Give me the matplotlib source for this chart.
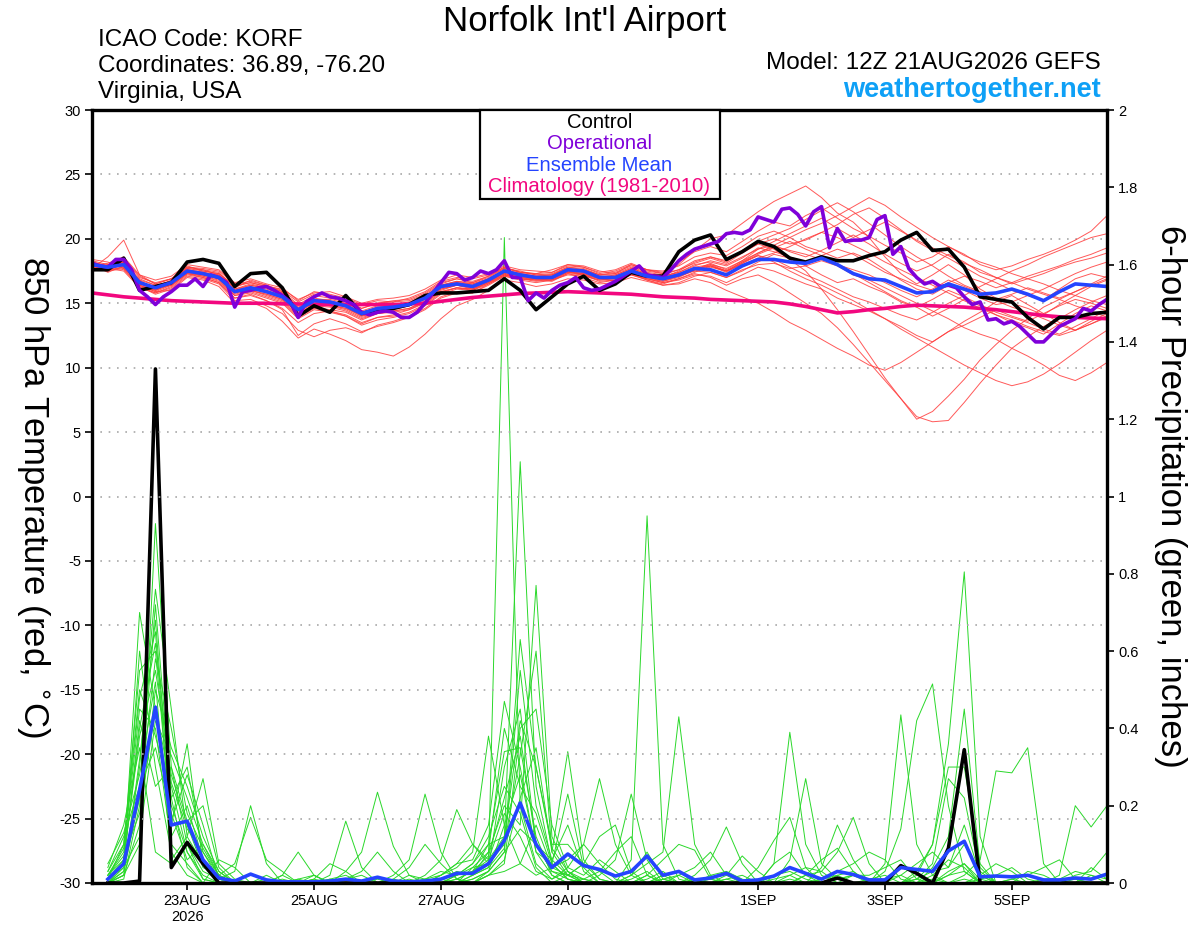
import matplotlib
matplotlib.use("Agg")
import matplotlib.pyplot as plt
import pandas as pd
from matplotlib.patches import Rectangle

plt.rcParams['font.family'] = ['Liberation Sans', 'DejaVu Sans']
plt.rcParams['axes.unicode_minus'] = False

# 6-hourly ensemble times, 3-hourly operational times
times = pd.date_range("2026-08-21 12:00", periods=65, freq="6h")
op_times = pd.date_range("2026-08-21 12:00", periods=129, freq="3h")
precip_times = times[1:]

tick_dates = pd.to_datetime(["2026-08-23", "2026-08-25", "2026-08-27", "2026-08-29",
                             "2026-09-01", "2026-09-03", "2026-09-05"])
tick_labels = ["23AUG\n2026", "25AUG", "27AUG", "29AUG", "1SEP", "3SEP", "5SEP"]

legend_labels = ["Control", "Operational", "Ensemble Mean", "Climatology (1981-2010)"]

# --- 850 hPa temperature (C) ---
control_temp = [17.6, 17.6, 18.5, 16.0, 16.3, 16.6, 18.2, 18.4, 18.1, 16.3,
                17.3, 17.4, 16.2, 14.0, 14.8, 14.3, 15.6, 14.2, 14.5, 14.6,
                14.9, 15.6, 15.8, 15.8, 15.9, 16.0, 16.9, 16.0, 14.5, 15.5,
                16.5, 17.1, 16.0, 16.5, 17.4, 17.1, 17.1, 19.0, 19.9, 20.3,
                18.4, 19.0, 19.8, 19.4, 18.5, 18.2, 18.6, 18.3, 18.3, 18.7,
                19.0, 19.9, 20.5, 19.1, 19.2, 17.8, 15.5, 15.3, 15.1, 13.9,
                13.0, 13.9, 13.9, 14.2, 14.3]

mean_temp = [18.0, 17.8, 18.0, 16.6, 16.2, 16.6, 17.5, 17.3, 17.0, 15.9,
             16.2, 15.9, 15.5, 14.5, 15.2, 15.1, 14.8, 14.2, 14.6, 14.7,
             14.9, 15.4, 16.3, 16.5, 16.3, 16.8, 17.5, 17.2, 17.0, 17.0,
             17.6, 17.5, 17.0, 17.0, 17.5, 17.1, 16.9, 17.2, 17.7, 17.6,
             17.2, 17.9, 18.4, 18.4, 18.2, 18.1, 18.5, 18.0, 17.3, 16.9,
             16.8, 16.3, 15.8, 15.9, 16.5, 16.1, 15.7, 15.8, 16.1, 15.7,
             15.2, 15.9, 16.5, 16.4, 16.3]

clim_temp = [15.8, 15.65, 15.5, 15.4, 15.3, 15.2, 15.15, 15.1, 15.05, 15.0,
             15.0, 15.0, 14.95, 14.95, 14.9, 14.9, 14.9, 14.9, 14.9, 14.9,
             14.95, 15.0, 15.15, 15.3, 15.45, 15.55, 15.65, 15.75, 15.8, 15.85,
             15.9, 15.85, 15.8, 15.75, 15.7, 15.6, 15.5, 15.45, 15.4, 15.3,
             15.25, 15.2, 15.15, 15.1, 14.95, 14.75, 14.5, 14.25, 14.35, 14.5,
             14.6, 14.75, 14.85, 14.8, 14.75, 14.7, 14.6, 14.5, 14.35, 14.2,
             14.05, 13.95, 13.9, 13.85, 13.8]

oper_temp = [18.1, 17.9, 17.8, 18.4, 18.4, 17.6, 16.0, 15.5, 14.9, 15.5,
             15.9, 16.4, 16.4, 16.9, 16.3, 17.2, 17.0, 16.6, 14.7, 15.9,
             16.0, 16.2, 16.3, 16.0, 15.6, 15.1, 13.9, 15.1, 15.5, 15.8,
             15.5, 15.4, 15.2, 14.9, 14.3, 14.1, 14.3, 14.4, 14.3, 13.9,
             13.9, 14.3, 15.0, 15.8, 16.6, 17.4, 17.3, 16.8, 17.0, 17.5,
             17.3, 17.6, 18.3, 17.0, 17.0, 15.2, 15.8, 15.4, 16.0, 16.4,
             16.6, 17.0, 16.2, 16.0, 16.1, 16.4, 16.7, 17.1, 17.5, 17.9,
             17.2, 17.1, 17.0, 17.6, 18.3, 18.8, 19.2, 19.4, 19.6, 19.8,
             20.4, 20.5, 20.4, 20.7, 21.7, 21.5, 21.3, 22.3, 22.4, 21.9,
             21.0, 22.1, 22.5, 19.3, 20.8, 19.8, 19.9, 19.9, 20.1, 21.5,
             21.8, 18.8, 19.4, 17.7, 17.0, 16.5, 16.7, 16.3, 16.4, 16.2,
             15.5, 14.9, 15.1, 13.7, 13.8, 13.4, 13.6, 13.2, 12.6, 12.0,
             12.0, 12.6, 13.2, 13.5, 13.8, 14.6, 14.4, 14.9, 15.3]

temp_members = [
    [17.8, 17.6, 18.2, 16.8, 16.0, 16.5, 17.8, 17.6, 17.2, 16.2,
     16.8, 16.4, 15.9, 14.9, 15.6, 15.4, 15.1, 14.6, 15.0, 15.2,
     15.3, 15.8, 16.6, 16.9, 16.7, 17.1, 17.8, 17.4, 17.3, 17.6,
     18.0, 17.9, 17.5, 17.3, 18.0, 17.6, 17.4, 18.2, 19.0, 19.4,
     19.0, 19.8, 20.6, 21.3, 21.0, 21.8, 22.4, 21.6, 20.8, 20.2,
     19.5, 18.9, 18.2, 18.6, 19.4, 18.8, 18.0, 17.6, 17.9, 18.4,
     18.8, 19.3, 19.9, 20.6, 21.8],
    [18.2, 17.9, 17.6, 16.3, 15.8, 16.2, 17.2, 17.0, 16.6, 15.4,
     15.7, 15.2, 14.6, 13.5, 14.2, 14.4, 14.0, 13.4, 13.9, 14.1,
     14.5, 15.0, 15.9, 16.2, 16.0, 16.6, 17.2, 16.9, 16.8, 16.7,
     17.3, 17.0, 16.6, 16.8, 17.2, 16.8, 16.5, 16.9, 17.3, 17.0,
     16.4, 16.9, 17.2, 16.6, 15.8, 15.0, 14.2, 13.1, 11.8, 10.4,
     9.0, 7.6, 6.2, 5.8, 5.9, 7.3, 8.8, 10.2, 11.5, 12.4,
     13.2, 13.8, 14.5, 15.1, 15.6],
    [17.5, 17.7, 18.4, 17.0, 16.6, 16.9, 17.9, 17.5, 17.3, 16.4,
     16.6, 16.3, 16.1, 15.3, 15.8, 15.9, 15.5, 15.0, 15.3, 15.4,
     15.6, 16.1, 16.8, 17.2, 17.0, 17.3, 17.9, 17.6, 17.5, 17.4,
     17.9, 17.8, 17.4, 17.6, 18.1, 17.6, 17.5, 17.9, 18.6, 18.9,
     18.7, 19.4, 20.2, 20.6, 20.1, 19.4, 19.0, 18.5, 18.9, 18.4,
     17.6, 16.8, 16.1, 15.7, 16.4, 16.0, 15.4, 14.9, 15.1, 15.6,
     15.2, 16.1, 16.9, 17.3, 17.0],
    [18.0, 17.4, 17.9, 16.4, 15.9, 16.0, 17.0, 16.8, 16.3, 15.0,
     15.1, 14.6, 13.6, 12.3, 13.0, 12.6, 12.1, 11.4, 11.2, 10.9,
     11.6, 12.6, 13.8, 14.8, 15.3, 16.0, 16.8, 16.6, 16.3, 16.5,
     16.9, 16.8, 16.5, 16.6, 17.0, 16.7, 16.4, 16.6, 17.1, 17.4,
     17.0, 17.5, 18.2, 18.8, 18.5, 17.9, 17.2, 16.6, 16.9, 16.3,
     15.8, 15.1, 14.7, 14.0, 14.6, 15.3, 14.8, 14.1, 13.5, 13.1,
     12.6, 13.4, 14.2, 14.8, 14.4],
    [17.9, 18.1, 18.6, 17.2, 16.8, 17.1, 18.0, 17.8, 17.6, 16.6,
     16.9, 16.5, 16.2, 15.2, 15.9, 15.7, 15.4, 14.9, 15.2, 15.1,
     15.2, 15.7, 16.5, 16.9, 16.6, 17.1, 17.7, 17.5, 17.2, 17.3,
     17.8, 17.6, 17.2, 17.4, 17.9, 17.5, 17.3, 18.0, 19.1, 20.0,
     20.3, 21.2, 22.1, 22.9, 23.5, 24.1, 23.2, 22.0, 21.3, 20.1,
     18.6, 17.3, 16.5, 17.2, 18.0, 17.2, 16.1, 15.4, 15.0, 14.6,
     14.1, 14.9, 15.6, 16.3, 16.8],
    [18.3, 18.0, 17.8, 16.5, 16.3, 16.8, 17.7, 17.6, 17.4, 16.1,
     16.4, 16.2, 15.8, 14.6, 15.3, 15.0, 14.7, 14.0, 14.3, 14.4,
     14.6, 15.1, 15.9, 16.2, 16.1, 16.7, 17.3, 17.0, 16.9, 16.9,
     17.4, 17.3, 16.9, 16.7, 17.2, 16.9, 16.6, 16.8, 17.2, 17.1,
     16.6, 17.2, 17.8, 17.5, 17.0, 16.5, 16.1, 15.4, 14.9, 14.4,
     13.8, 13.2, 12.5, 12.0, 12.8, 13.6, 14.3, 15.1, 15.6, 14.9,
     14.2, 13.5, 12.9, 13.4, 14.0],
    [17.6, 17.9, 18.0, 16.9, 16.4, 16.6, 17.4, 17.2, 16.9, 15.8,
     16.0, 15.6, 15.2, 14.0, 14.7, 14.5, 14.3, 13.7, 14.2, 14.5,
     14.8, 15.4, 16.2, 16.5, 16.4, 16.9, 17.6, 17.3, 17.1, 17.2,
     17.7, 17.4, 17.0, 17.2, 17.7, 17.3, 17.0, 17.5, 18.2, 18.6,
     18.3, 19.0, 19.6, 19.2, 18.4, 17.5, 16.1, 14.5, 12.8, 11.0,
     9.2, 7.6, 6.0, 6.6, 7.8, 9.1, 10.6, 11.8, 12.9, 13.8,
     14.7, 15.3, 15.9, 16.5, 17.1],
    [17.7, 17.5, 18.1, 16.7, 16.1, 16.4, 17.3, 17.1, 16.8, 15.6,
     15.9, 15.5, 15.1, 13.9, 14.6, 14.4, 14.1, 13.5, 13.9, 14.0,
     14.3, 14.9, 15.8, 16.2, 16.1, 16.6, 17.2, 17.0, 16.8, 16.9,
     17.5, 17.2, 16.9, 17.0, 17.4, 17.0, 16.7, 17.1, 17.6, 18.1,
     17.6, 18.3, 19.2, 19.8, 20.4, 21.0, 21.6, 20.8, 20.1, 20.7,
     21.3, 20.6, 19.9, 19.3, 18.7, 18.1, 17.6, 17.0, 16.6, 16.1,
     15.7, 15.3, 14.8, 14.4, 13.9],
    [18.1, 17.8, 17.9, 16.4, 16.0, 16.5, 17.6, 17.4, 17.0, 15.8,
     16.1, 15.8, 15.4, 14.5, 15.1, 14.8, 14.5, 13.9, 14.2, 14.3,
     14.5, 15.1, 16.0, 16.4, 16.1, 16.6, 17.4, 17.1, 17.0, 17.1,
     17.5, 17.4, 17.1, 17.0, 17.4, 17.1, 17.0, 17.3, 17.5, 17.4,
     17.0, 17.6, 18.0, 18.1, 17.7, 17.9, 18.3, 17.9, 17.2, 16.8,
     16.2, 15.6, 15.0, 14.4, 13.8, 13.1, 12.6, 12.2, 11.5, 10.9,
     10.2, 9.4, 9.0, 9.6, 10.4],
    [17.9, 17.6, 18.3, 16.6, 16.3, 16.7, 17.5, 17.3, 17.1, 16.0,
     16.3, 16.0, 15.6, 14.3, 15.0, 15.1, 14.8, 14.2, 14.6, 14.8,
     15.0, 15.5, 16.4, 16.6, 16.5, 16.9, 17.5, 17.3, 17.0, 17.1,
     17.7, 17.5, 17.1, 17.1, 17.6, 17.2, 17.1, 17.4, 17.9, 18.3,
     18.0, 18.6, 19.2, 19.5, 19.0, 18.6, 19.1, 19.7, 20.3, 19.6,
     18.8, 18.1, 17.5, 18.0, 18.8, 18.2, 17.4, 17.0, 16.5, 16.9,
     17.3, 17.8, 18.2, 18.5, 18.9],
    [18.4, 18.2, 17.7, 16.3, 15.7, 16.1, 17.1, 16.9, 16.5, 15.2,
     15.3, 14.8, 14.2, 12.9, 12.4, 12.9, 13.1, 12.7, 13.3, 13.6,
     14.0, 14.6, 15.5, 15.9, 15.8, 16.4, 17.1, 16.8, 16.6, 16.8,
     17.2, 17.1, 16.8, 16.9, 17.3, 16.9, 16.6, 16.9, 17.4, 17.9,
     17.4, 18.1, 18.8, 19.3, 19.8, 19.2, 18.7, 18.0, 17.3, 16.6,
     15.9, 15.2, 14.7, 15.3, 16.0, 15.5, 14.9, 14.3, 13.9, 13.5,
     13.0, 12.6, 13.2, 13.8, 14.5],
    [17.8, 18.0, 18.5, 17.1, 16.5, 16.9, 17.8, 17.7, 17.5, 16.5,
     16.7, 16.4, 16.0, 15.1, 15.7, 15.6, 15.2, 14.6, 15.0, 15.1,
     15.4, 15.9, 16.7, 17.0, 16.9, 17.2, 17.8, 17.4, 17.3, 17.4,
     18.0, 17.8, 17.3, 17.5, 18.0, 17.6, 17.3, 17.6, 18.1, 18.5,
     18.1, 18.9, 19.6, 20.0, 19.6, 19.9, 20.5, 21.1, 21.9, 22.4,
     21.6, 20.7, 19.8, 19.1, 18.5, 17.8, 17.1, 16.6, 16.0, 15.6,
     16.1, 16.7, 17.3, 17.8, 18.2],
    [18.0, 17.7, 18.0, 16.7, 16.2, 16.4, 17.3, 17.2, 16.9, 15.9,
     16.0, 15.7, 15.3, 14.2, 14.9, 14.8, 14.6, 14.0, 14.4, 14.6,
     14.8, 15.3, 16.1, 16.4, 16.2, 16.7, 17.3, 17.1, 16.9, 16.8,
     17.3, 17.2, 16.7, 16.8, 17.3, 16.8, 16.4, 16.5, 16.9, 16.6,
     16.0, 15.5, 15.0, 14.3, 13.5, 12.9, 12.2, 11.5, 10.9, 10.2,
     9.8, 10.4, 11.2, 12.0, 12.8, 13.3, 13.9, 14.5, 14.0, 13.6,
     14.2, 14.8, 15.3, 15.0, 14.6],
    [17.6, 17.8, 18.2, 16.5, 16.0, 16.6, 17.6, 17.4, 17.1, 16.0,
     16.4, 16.1, 15.7, 14.7, 15.3, 15.3, 15.0, 14.4, 14.8, 14.9,
     15.1, 15.6, 16.4, 16.7, 16.6, 17.0, 17.7, 17.4, 17.2, 17.2,
     17.7, 17.6, 17.2, 17.3, 17.8, 17.4, 17.2, 17.6, 18.3, 18.6,
     18.2, 19.1, 19.8, 20.3, 20.8, 21.5, 22.2, 22.8, 22.1, 21.2,
     20.3, 19.4, 18.6, 17.9, 17.1, 16.4, 15.9, 15.2, 14.7, 14.3,
     13.8, 13.3, 12.9, 13.6, 14.2],
    [18.2, 17.9, 18.1, 16.8, 16.4, 16.7, 17.6, 17.3, 17.0, 15.9,
     16.2, 15.9, 15.5, 14.4, 15.0, 14.9, 14.6, 14.1, 14.5, 14.6,
     14.9, 15.3, 16.2, 16.5, 16.3, 16.8, 17.4, 17.2, 16.9, 17.0,
     17.6, 17.4, 17.0, 17.1, 17.5, 17.1, 16.8, 17.1, 17.5, 17.8,
     17.5, 18.2, 18.7, 18.4, 17.8, 17.2, 16.7, 16.1, 15.5, 15.1,
     14.6, 14.1, 13.7, 14.3, 15.0, 15.6, 16.3, 16.9, 17.5, 18.0,
     18.6, 19.1, 19.6, 20.1, 20.4],
    [17.7, 17.6, 17.8, 16.4, 15.9, 16.4, 17.4, 17.1, 16.7, 15.6,
     15.8, 15.4, 15.0, 13.8, 14.5, 14.3, 14.0, 13.3, 13.7, 13.9,
     14.2, 14.8, 15.7, 16.1, 16.0, 16.5, 17.1, 16.9, 16.7, 16.8,
     17.4, 17.2, 16.8, 16.9, 17.4, 16.9, 16.7, 17.0, 17.6, 18.0,
     17.5, 18.1, 18.7, 18.2, 17.5, 16.9, 16.4, 15.8, 15.2, 14.5,
     13.8, 13.0, 12.3, 11.6, 10.9, 10.2, 9.6, 9.0, 8.6, 8.9,
     9.5, 10.3, 11.2, 12.1, 12.9],
    [18.0, 17.9, 18.2, 16.6, 16.3, 16.6, 17.5, 17.4, 17.2, 16.1,
     16.5, 16.2, 15.8, 14.8, 15.4, 15.2, 14.9, 14.3, 14.7, 14.8,
     15.0, 15.5, 16.4, 16.7, 16.5, 16.9, 17.6, 17.3, 17.1, 17.2,
     17.8, 17.7, 17.2, 17.2, 17.7, 17.3, 17.1, 17.4, 18.0, 18.2,
     17.9, 18.5, 19.3, 19.0, 18.6, 18.2, 18.7, 19.2, 18.8, 18.1,
     17.4, 16.9, 16.4, 16.0, 16.6, 17.1, 16.7, 16.2, 16.6, 17.1,
     17.5, 17.9, 18.4, 18.8, 19.3],
    [17.7, 18.6, 19.9, 17.2, 16.5, 16.9, 17.7, 17.5, 17.3, 16.3,
     16.6, 16.3, 15.9, 14.6, 15.2, 15.0, 14.8, 14.2, 14.5, 14.6,
     14.9, 15.4, 16.3, 16.6, 16.4, 16.8, 17.5, 17.2, 17.0, 17.0,
     17.6, 17.5, 17.0, 17.1, 17.6, 17.2, 17.0, 17.3, 17.8, 18.0,
     17.7, 18.3, 18.9, 19.4, 19.1, 18.8, 18.4, 18.0, 17.6, 17.2,
     16.6, 16.0, 15.5, 16.1, 16.8, 16.3, 15.8, 15.3, 15.7, 16.2,
     15.8, 15.4, 15.9, 16.4, 16.9],
    [18.1, 17.7, 17.5, 16.2, 15.8, 16.3, 17.3, 17.0, 16.6, 15.4,
     15.6, 15.2, 14.5, 12.5, 13.4, 13.8, 13.4, 12.8, 13.2, 13.5,
     13.9, 14.5, 15.4, 15.8, 15.8, 16.5, 17.2, 16.9, 16.8, 16.9,
     17.4, 17.3, 17.0, 17.0, 17.4, 17.0, 16.8, 17.2, 17.7, 17.9,
     17.5, 18.0, 18.5, 18.9, 19.4, 20.0, 20.5, 20.1, 19.5, 18.9,
     18.2, 17.6, 17.0, 16.4, 15.8, 15.2, 14.6, 14.1, 13.7, 13.2,
     12.8, 12.5, 12.9, 13.4, 13.9],
    [17.9, 17.5, 17.7, 16.6, 16.1, 16.5, 17.5, 17.2, 16.9, 15.7,
     16.0, 15.7, 15.3, 14.2, 14.8, 14.7, 14.4, 13.8, 14.2, 14.4,
     14.6, 15.2, 16.1, 16.4, 16.2, 16.7, 17.3, 17.0, 16.9, 16.9,
     17.5, 17.3, 16.9, 17.0, 17.5, 17.1, 16.9, 17.1, 17.6, 17.9,
     17.5, 18.2, 18.9, 19.5, 20.1, 20.7, 21.2, 21.8, 22.5, 23.2,
     22.6, 21.7, 20.9, 20.1, 19.4, 18.7, 18.2, 17.8, 17.3, 16.9,
     16.5, 16.0, 15.6, 15.2, 14.9],
]

# --- 6-hour precipitation (inches), starting at the first 6h step ---
control_precip = [0, 0, 0.005, 1.33, 0.04, 0.105, 0.05, 0,
                  0, 0, 0, 0, 0, 0, 0, 0,
                  0, 0, 0, 0, 0, 0, 0, 0,
                  0, 0, 0, 0, 0, 0, 0, 0,
                  0, 0, 0, 0, 0, 0, 0, 0,
                  0, 0, 0, 0, 0, 0, 0.013, 0,
                  0, 0, 0.045, 0.025, 0, 0.09, 0.345, 0,
                  0, 0, 0, 0, 0, 0, 0, 0]

mean_precip = [0.01, 0.05, 0.24, 0.455, 0.15, 0.16, 0.06, 0.013,
               0.005, 0.023, 0.008, 0.003, 0.003, 0.003, 0.005, 0.01,
               0.005, 0.015, 0.005, 0.003, 0.005, 0.01, 0.025, 0.025,
               0.05, 0.11, 0.207, 0.1, 0.04, 0.075, 0.045, 0.035,
               0.018, 0.03, 0.07, 0.02, 0.03, 0.008, 0.013, 0.025,
               0.005, 0.008, 0.018, 0.04, 0.025, 0.01, 0.03, 0.022,
               0.008, 0.008, 0.04, 0.035, 0.03, 0.083, 0.108, 0.016,
               0.018, 0.016, 0.02, 0.008, 0.008, 0.013, 0.01, 0.023]

precip_members = [
    [0, 0.05, 0.70, 0.45, 0.20, 0.08, 0.02, 0,
     0, 0, 0.01, 0, 0, 0, 0.02, 0.16,
     0.04, 0, 0, 0, 0, 0.01, 0.02, 0.03,
     0.10, 0.34, 0.35, 0.12, 0.02, 0, 0.01, 0,
     0, 0.02, 0.08, 0.01, 0, 0, 0, 0,
     0, 0, 0.01, 0.02, 0, 0, 0, 0,
     0, 0, 0, 0.01, 0.03, 0.04, 0.10, 0.03,
     0, 0, 0, 0, 0, 0.01, 0, 0],
    [0, 0.02, 0.10, 0.93, 0.30, 0.10, 0.03, 0.01,
     0, 0, 0, 0, 0, 0.01, 0, 0,
     0, 0, 0, 0, 0.02, 0.06, 0.19, 0.10,
     0.05, 1.67, 0.20, 0.05, 0.01, 0.03, 0, 0,
     0, 0, 0, 0, 0.02, 0, 0, 0.01,
     0, 0, 0.05, 0.39, 0.10, 0.02, 0, 0,
     0, 0, 0, 0, 0, 0.02, 0.05, 0,
     0, 0, 0, 0, 0, 0.02, 0.03, 0.08],
    [0.01, 0.10, 0.55, 0.60, 0.15, 0.36, 0.05, 0.01,
     0.03, 0.20, 0.05, 0, 0, 0, 0, 0,
     0, 0, 0.01, 0, 0, 0.02, 0.04, 0.08,
     0.38, 0.15, 0.05, 0.02, 0.04, 0.06, 0.10, 0.27,
     0.10, 0.02, 0, 0, 0, 0.01, 0, 0,
     0, 0, 0, 0, 0.02, 0.03, 0, 0,
     0, 0.05, 0.435, 0.10, 0.02, 0, 0, 0,
     0, 0, 0, 0.01, 0, 0, 0, 0],
    [0, 0.03, 0.30, 0.76, 0.45, 0.12, 0.27, 0.05,
     0.01, 0, 0, 0.02, 0, 0, 0, 0,
     0, 0, 0, 0, 0, 0, 0.01, 0.03,
     0.06, 0.12, 1.09, 0.25, 0.05, 0.01, 0, 0,
     0, 0.01, 0.03, 0, 0, 0, 0, 0,
     0, 0, 0, 0.06, 0.27, 0.05, 0.01, 0,
     0, 0, 0, 0, 0.02, 0.06, 0.04, 0,
     0, 0, 0, 0, 0, 0, 0.04, 0.01],
    [0.02, 0.08, 0.45, 0.40, 0.10, 0.05, 0, 0,
     0, 0, 0, 0, 0.01, 0, 0, 0.03,
     0.08, 0.235, 0.095, 0.02, 0, 0, 0, 0.02,
     0.04, 0.09, 0.63, 0.30, 0.10, 0.10, 0.05, 0.01,
     0, 0, 0.01, 0.03, 0, 0, 0, 0,
     0, 0, 0, 0, 0, 0.01, 0.02, 0,
     0, 0.03, 0.14, 0.42, 0.515, 0.20, 0.03, 0,
     0, 0, 0, 0, 0, 0, 0, 0],
    [0, 0.01, 0.20, 0.72, 0.22, 0.30, 0.08, 0.02,
     0, 0, 0, 0, 0, 0, 0.01, 0,
     0, 0, 0, 0.02, 0.01, 0, 0, 0.04,
     0.08, 0.20, 0.15, 0.77, 0.12, 0.03, 0, 0.02,
     0.06, 0.23, 0.06, 0, 0, 0, 0, 0.02,
     0.07, 0.03, 0, 0, 0, 0, 0.01, 0.02,
     0, 0, 0, 0, 0.01, 0, 0.02, 0.06,
     0.29, 0.285, 0.35, 0.05, 0, 0, 0, 0],
    [0.01, 0.06, 0.38, 0.55, 0.28, 0.15, 0.04, 0.02,
     0.05, 0.17, 0.06, 0.03, 0, 0, 0, 0,
     0, 0, 0, 0, 0.01, 0.02, 0.05, 0.06,
     0.15, 0.47, 0.30, 0.08, 0.02, 0, 0, 0,
     0, 0, 0, 0.02, 0.03, 0, 0, 0,
     0, 0.04, 0.11, 0.17, 0.04, 0, 0, 0,
     0, 0, 0, 0, 0, 0.03, 0.05, 0.01,
     0, 0, 0, 0, 0, 0, 0, 0],
    [0.03, 0.12, 0.25, 0.35, 0.18, 0.06, 0.10, 0.03,
     0, 0, 0, 0, 0, 0.02, 0, 0,
     0, 0.01, 0, 0, 0, 0, 0, 0,
     0.02, 0.05, 0.40, 0.45, 0.15, 0.04, 0.02, 0.06,
     0.03, 0, 0, 0, 0, 0.02, 0.06, 0.145,
     0.05, 0, 0, 0, 0, 0, 0, 0,
     0, 0, 0, 0.02, 0.10, 0.36, 0.805, 0.12,
     0, 0, 0, 0, 0, 0, 0, 0],
    [0, 0.02, 0.15, 0.50, 0.35, 0.25, 0.12, 0.03,
     0, 0, 0, 0, 0, 0.01, 0.05, 0.03,
     0, 0, 0, 0, 0, 0, 0.02, 0.05,
     0.12, 0.25, 0.18, 0.04, 0, 0.02, 0.05, 0.03,
     0, 0.06, 0.95, 0.10, 0.01, 0, 0, 0,
     0, 0, 0, 0, 0, 0, 0, 0.02,
     0.01, 0, 0, 0, 0, 0, 0, 0,
     0, 0, 0, 0, 0.02, 0.20, 0.145, 0.20],
    [0, 0.04, 0.60, 0.30, 0.08, 0.02, 0, 0.06,
     0.04, 0, 0, 0, 0.01, 0.02, 0, 0,
     0, 0, 0, 0.01, 0, 0, 0, 0.01,
     0.03, 0.08, 0.55, 0.20, 0.06, 0.02, 0, 0,
     0, 0, 0.02, 0, 0, 0, 0.01, 0,
     0, 0, 0, 0.02, 0.04, 0.03, 0.08, 0.17,
     0.05, 0, 0, 0, 0, 0, 0.01, 0,
     0, 0.01, 0, 0, 0, 0, 0, 0],
    [0.02, 0.09, 0.48, 0.65, 0.12, 0.20, 0.06, 0,
     0, 0, 0.02, 0, 0, 0, 0, 0,
     0, 0, 0, 0, 0, 0.01, 0, 0.02,
     0.04, 0.30, 0.45, 0.10, 0.03, 0.01, 0, 0,
     0, 0.02, 0.05, 0.08, 0.43, 0.10, 0.02, 0,
     0, 0, 0, 0, 0, 0, 0.02, 0.03,
     0, 0, 0, 0, 0.04, 0.12, 0.45, 0.04,
     0, 0, 0, 0, 0, 0, 0, 0],
    [0.04, 0.15, 0.35, 0.08, 0.05, 0.10, 0.01, 0,
     0, 0, 0, 0.02, 0.08, 0.02, 0, 0,
     0, 0, 0, 0, 0, 0, 0, 0,
     0.02, 0.06, 0.22, 0.35, 0.08, 0.34, 0.06, 0.01,
     0, 0, 0, 0, 0, 0, 0.02, 0.03,
     0.01, 0, 0, 0, 0, 0.04, 0.15, 0.06,
     0, 0, 0, 0, 0, 0, 0, 0.02,
     0.05, 0.03, 0, 0, 0, 0, 0, 0],
    [0, 0.03, 0.22, 0.58, 0.40, 0.18, 0.09, 0.02,
     0, 0, 0, 0, 0, 0, 0, 0.01,
     0.02, 0, 0, 0, 0, 0.02, 0.05, 0.10,
     0.06, 0.18, 0.12, 0.03, 0.01, 0.04, 0.10, 0.05,
     0.01, 0, 0, 0, 0, 0, 0, 0,
     0, 0, 0.02, 0.03, 0.01, 0, 0, 0,
     0, 0, 0, 0.01, 0.05, 0.27, 0.22, 0.02,
     0, 0, 0, 0, 0, 0, 0, 0],
    [0.01, 0.05, 0.42, 0.25, 0.30, 0.16, 0.20, 0.04,
     0, 0, 0, 0, 0, 0, 0, 0,
     0, 0, 0.01, 0.04, 0.10, 0.05, 0.01, 0,
     0.03, 0.15, 0.28, 0.08, 0.05, 0.23, 0.04, 0,
     0, 0, 0, 0.01, 0, 0, 0, 0,
     0, 0, 0.05, 0.08, 0.02, 0, 0, 0,
     0, 0.01, 0.02, 0, 0, 0, 0, 0,
     0, 0, 0.03, 0.02, 0, 0, 0, 0],
    [0.02, 0.07, 0.18, 0.45, 0.25, 0.08, 0.01, 0,
     0, 0, 0, 0, 0, 0, 0, 0,
     0, 0, 0, 0, 0, 0, 0.02, 0.04,
     0.05, 0.10, 0.33, 0.60, 0.08, 0.02, 0, 0,
     0, 0, 0, 0.02, 0, 0, 0, 0,
     0, 0, 0, 0, 0.02, 0.06, 0.09, 0.03,
     0, 0, 0, 0, 0, 0, 0, 0.01,
     0.02, 0.04, 0.01, 0, 0, 0, 0, 0],
    [0, 0.02, 0.32, 0.68, 0.16, 0.28, 0.15, 0.01,
     0, 0, 0, 0, 0, 0, 0, 0,
     0, 0, 0.02, 0.06, 0.23, 0.08, 0.01, 0,
     0.02, 0.03, 0.05, 0.15, 0.04, 0.02, 0.01, 0.03,
     0.08, 0.12, 0.02, 0, 0, 0, 0, 0,
     0, 0, 0, 0, 0, 0, 0, 0,
     0.01, 0.02, 0, 0.03, 0.10, 0.30, 0.30, 0.05,
     0, 0, 0, 0, 0, 0, 0, 0],
    [0.03, 0.10, 0.50, 0.38, 0.22, 0.04, 0, 0,
     0, 0, 0, 0, 0, 0, 0.01, 0.02,
     0, 0, 0, 0, 0, 0.01, 0.03, 0.02,
     0.08, 0.40, 0.25, 0.18, 0.05, 0.01, 0, 0,
     0, 0, 0.02, 0.06, 0.10, 0.085, 0.01, 0,
     0, 0, 0, 0, 0, 0, 0, 0,
     0, 0, 0, 0, 0, 0.02, 0.03, 0,
     0, 0.01, 0.02, 0.04, 0.06, 0.01, 0, 0],
    [0.05, 0.13, 0.28, 0.52, 0.06, 0.12, 0.05, 0,
     0, 0, 0, 0, 0, 0, 0, 0.01,
     0.03, 0.08, 0.03, 0, 0, 0, 0, 0.01,
     0.03, 0.08, 0.14, 0.10, 0.06, 0.15, 0.03, 0,
     0, 0, 0, 0, 0, 0, 0, 0.01,
     0.02, 0, 0, 0, 0, 0.01, 0.03, 0.05,
     0.08, 0.06, 0.01, 0, 0, 0, 0, 0,
     0, 0, 0, 0, 0, 0, 0.02, 0.01],
    [0.01, 0.04, 0.12, 0.42, 0.33, 0.22, 0.10, 0.02,
     0, 0, 0, 0.01, 0, 0, 0, 0,
     0, 0, 0, 0, 0, 0, 0.01, 0.03,
     0.07, 0.22, 0.38, 0.10, 0.03, 0.02, 0.05, 0.12,
     0.15, 0.03, 0, 0, 0, 0, 0, 0,
     0, 0, 0, 0.01, 0, 0, 0, 0,
     0, 0, 0.02, 0.05, 0.08, 0.04, 0.15, 0.02,
     0, 0, 0, 0, 0, 0, 0, 0],
    [0.02, 0.06, 0.40, 0.62, 0.26, 0.14, 0.08, 0.01,
     0, 0, 0, 0, 0, 0, 0, 0,
     0, 0, 0, 0, 0.01, 0.03, 0.02, 0.05,
     0.10, 0.12, 0.42, 0.30, 0.09, 0.03, 0.01, 0,
     0, 0, 0, 0.01, 0.02, 0.04, 0.08, 0.02,
     0, 0, 0, 0, 0, 0, 0.01, 0.02,
     0.02, 0.04, 0.06, 0.01, 0, 0, 0, 0,
     0, 0, 0, 0, 0.01, 0.03, 0.02, 0],
]

RED = "#ff3c3c"
GREEN = "#2ad82a"
PURPLE = "#7f00d9"
BLUE = "#2444ff"
PINK = "#f2077f"

fig = plt.figure(figsize=(12, 9.27), dpi=100)
ax = fig.add_axes([92 / 1200, 1 - 883 / 927, 1015 / 1200, 773 / 927])
ax2 = ax.twinx()
# temperature lines drawn over the precipitation lines
ax.set_zorder(ax2.get_zorder() + 1)
ax.patch.set_visible(False)

# precipitation (right axis)
for member in precip_members:
    ax2.plot(precip_times, member, color=GREEN, linewidth=0.7)
ax2.plot(precip_times, control_precip, color="black", linewidth=2.6)
ax2.plot(precip_times, mean_precip, color=BLUE, linewidth=2.6)

# temperature (left axis)
for member in temp_members:
    ax.plot(times, member, color=RED, linewidth=0.7, alpha=0.85)
ax.plot(times, clim_temp, color=PINK, linewidth=2.6)
ax.plot(times, control_temp, color="black", linewidth=2.6)
ax.plot(op_times, oper_temp, color=PURPLE, linewidth=2.6)
ax.plot(times, mean_temp, color=BLUE, linewidth=2.6)

ax.set_xlim(times[0], times[-1])
ax.set_ylim(-30, 30)
ax2.set_ylim(0, 2)
ax.set_yticks(range(-30, 31, 5))
ax2.set_yticks([i / 5 for i in range(11)])
ax2.set_yticklabels(["%g" % (i / 5) for i in range(11)])
ax.set_xticks(tick_dates)
ax.set_xticklabels(tick_labels)

ax.yaxis.grid(True, linestyle=(0, (1, 4)), color="#a8a8a8", linewidth=1.2)

for side in ["left", "right", "top", "bottom"]:
    ax.spines[side].set_linewidth(2.4)
    ax2.spines[side].set_visible(False)

ax.tick_params(axis="both", direction="out", length=5, width=1.2, labelsize=10.5, pad=3)
ax2.tick_params(axis="y", direction="out", length=5, width=1.2, labelsize=10.5, pad=3)

ax.set_ylabel("850 hPa Temperature (red, $^{\\circ}$C)", fontsize=25, rotation=270,
              va="center")
ax.yaxis.set_label_coords(-0.058, 0.5)
ax2.set_ylabel("6-hour Precipitation (green, inches)", fontsize=25, rotation=270,
               va="center")
ax2.yaxis.set_label_coords(1.063, 0.5)

# legend box: centred coloured text lines inside a plain black frame
ax.add_patch(Rectangle((0.3823, 0.8849), 0.2365, 0.1151, transform=ax.transAxes,
                       facecolor="white", edgecolor="black", linewidth=1.6,
                       zorder=10, clip_on=False))
legend_colors = ["black", PURPLE, BLUE, PINK]
for i, (label, col) in enumerate(zip(legend_labels, legend_colors)):
    ax.text(0.5, 0.9837 - i * 0.0275, label, transform=ax.transAxes, color=col,
            fontsize=14.6, ha="center", va="center", zorder=11)

# header text
fig.text(585 / 1200, 1 - 21 / 927, "Norfolk Int'l Airport", fontsize=25, ha="center", va="center")
fig.text(98 / 1200, 1 - 40 / 927, "ICAO Code: KORF", fontsize=17.5, ha="left", va="center")
fig.text(98 / 1200, 1 - 66 / 927, "Coordinates: 36.89, -76.20", fontsize=17.5, ha="left", va="center")
fig.text(98 / 1200, 1 - 92 / 927, "Virginia, USA", fontsize=17.5, ha="left", va="center")
fig.text(1101 / 1200, 1 - 63 / 927, "Model: 12Z 21AUG2026 GEFS", fontsize=17.5, ha="right", va="center")
fig.text(1101 / 1200, 1 - 90 / 927, "weathertogether.net", fontsize=19.5, fontweight="bold",
         color="#0ea0f6", ha="right", va="center")

fig.savefig("out.png", dpi=100)
plt.close(fig)
